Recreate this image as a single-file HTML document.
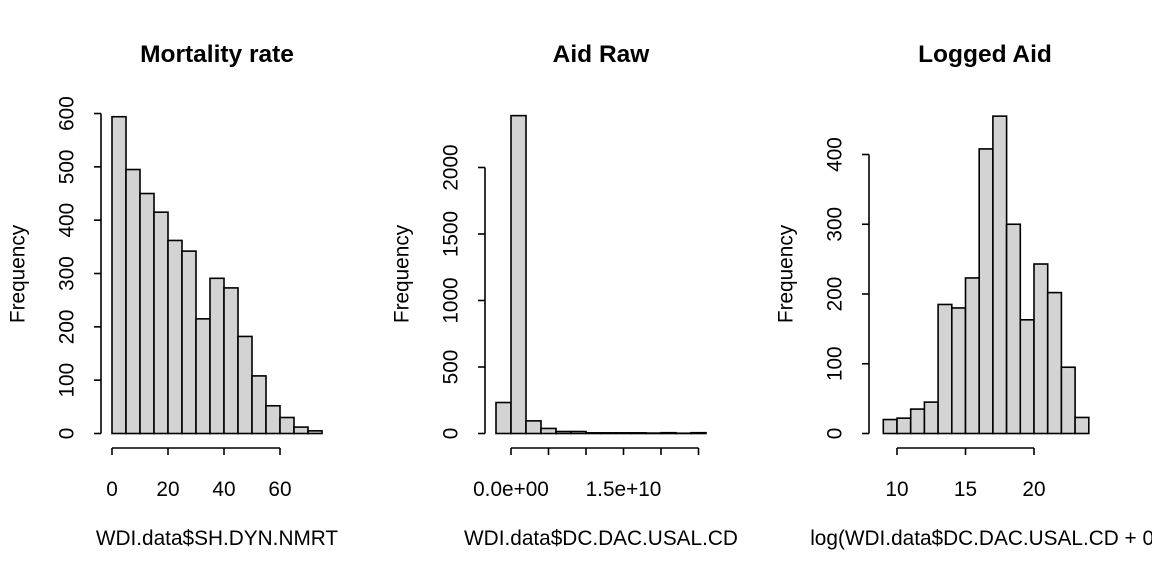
<!DOCTYPE html>
<html><head><meta charset="utf-8"><style>
html,body{margin:0;padding:0;background:#fff}
svg{display:block;font-family:"Liberation Sans",sans-serif}
</style></head><body>
<svg id="c" width="1152" height="576" viewBox="0 0 1152 576"></svg>
<script>
// Panel 1: Mortality rate
const mortBreaks = [0,5,10,15,20,25,30,35,40,45,50,55,60,65,70,75];
const mortCounts = [594,495,450,415,362,342,215,291,273,182,108,52,30,12,5];
const mortXTicks = [0,20,40,60];
const mortXLabels = ["0","20","40","60"];
const mortYTicks = [0,100,200,300,400,500,600];
// Panel 2: Aid raw (units of 1e9)
const aidBreaks = [-2,0,2,4,6,8,10,12,14,16,18,20,22,24,26];
const aidCounts = [233,2390,95,38,15,15,5,5,5,5,3,6,2,6];
const aidXTicks = [0,5,10,15,20,25];
const aidXLabels = ["0.0e+00","","","1.5e+10","",""];
const aidYTicks = [0,500,1000,1500,2000];
// Panel 3: Logged aid
const logBreaks = [9,10,11,12,13,14,15,16,17,18,19,20,21,22,23,24];
const logCounts = [20,22,35,45,185,180,223,408,455,300,163,243,202,95,23];
const logXTicks = [10,15,20];
const logXLabels = ["10","15","20"];
const logYTicks = [0,100,200,300,400];

const svg = document.getElementById('c');
const NS = 'http://www.w3.org/2000/svg';
function mk(tag, attrs, parent){const e=document.createElementNS(NS,tag);for(const k in attrs)e.setAttribute(k,attrs[k]);(parent||svg).appendChild(e);return e;}
const FS = '20.8';

function panel(p){
  const g = mk('g',{});
  
  
  const sx = v => p.x0 + (v - p.xv0) * p.xs;
  const sy = v => p.y0 - v * p.ys;
  const t = mk('text',{x:p.cx,y:62,'text-anchor':'middle','font-size':'24.5','font-weight':'bold'},g);
  t.textContent = p.title;
  
  
  for(let i=0;i<p.counts.length;i++){
    const x1=sx(p.breaks[i]), x2=sx(p.breaks[i+1]), y=sy(p.counts[i]);
    const r = mk('rect',{x:x1,y:y,width:x2-x1,height:p.y0-y,fill:'#d3d3d3',stroke:'#000','stroke-width':'1.6'},g);
    
    
  }
  const xa = mk('g',{},g);
  
  
  const xt=p.xticks;
  mk('line',{x1:sx(xt[0]),x2:sx(xt[xt.length-1]),y1:448,y2:448,stroke:'#000','stroke-width':'1.6'},xa);
  xt.forEach((v,i)=>{
    mk('line',{x1:sx(v),x2:sx(v),y1:448,y2:455,stroke:'#000','stroke-width':'1.6'},xa);
    if(p.xlabels[i]){const l=mk('text',{x:sx(v),y:496,'text-anchor':'middle','font-size':FS},xa);l.textContent=p.xlabels[i];}
  });
  const ya = mk('g',{},g);
  
  
  const yt=p.yticks, ax=p.yaxisX;
  mk('line',{x1:ax,x2:ax,y1:sy(yt[0]),y2:sy(yt[yt.length-1]),stroke:'#000','stroke-width':'1.6'},ya);
  yt.forEach(v=>{
    mk('line',{x1:ax-7,x2:ax,y1:sy(v),y2:sy(v),stroke:'#000','stroke-width':'1.6'},ya);
    const l=mk('text',{x:ax-35,y:sy(v),'text-anchor':'middle','font-size':FS,transform:`rotate(-90 ${ax-35} ${sy(v)})`,dy:'7.5'},ya);
    l.textContent=v;
  });
  const xl=mk('text',{x:p.cx,y:545,'text-anchor':'middle','font-size':FS},g);
  xl.textContent=p.xlab;
  
  
  const yx=p.yaxisX-84;
  const yl=mk('text',{x:yx,y:274,'text-anchor':'middle','font-size':FS,transform:`rotate(-90 ${yx} 274)`,dy:'7.5'},g);
  yl.textContent='Frequency';
  
  
}

panel({id:'mortality',title:'Mortality rate',cx:217,breaks:mortBreaks,counts:mortCounts,xticks:mortXTicks,xlabels:mortXLabels,yticks:mortYTicks,
  x0:112,xv0:0,xs:2.8,y0:433.5,ys:0.5333,yaxisX:101,xlab:'WDI.data$SH.DYN.NMRT'});
panel({id:'aid-raw',title:'Aid Raw',cx:601,breaks:aidBreaks,counts:aidCounts,xticks:aidXTicks,xlabels:aidXLabels,yticks:aidYTicks,
  x0:511,xv0:0,xs:7.5,y0:433.5,ys:0.1330,yaxisX:485,xlab:'WDI.data$DC.DAC.USAL.CD'});
panel({id:'logged-aid',title:'Logged Aid',cx:985,breaks:logBreaks,counts:logCounts,xticks:logXTicks,xlabels:logXLabels,yticks:logYTicks,
  x0:897,xv0:10,xs:13.7,y0:433.5,ys:0.6975,yaxisX:869,xlab:'log(WDI.data$DC.DAC.USAL.CD + 0.'});
</script>
</body></html>
